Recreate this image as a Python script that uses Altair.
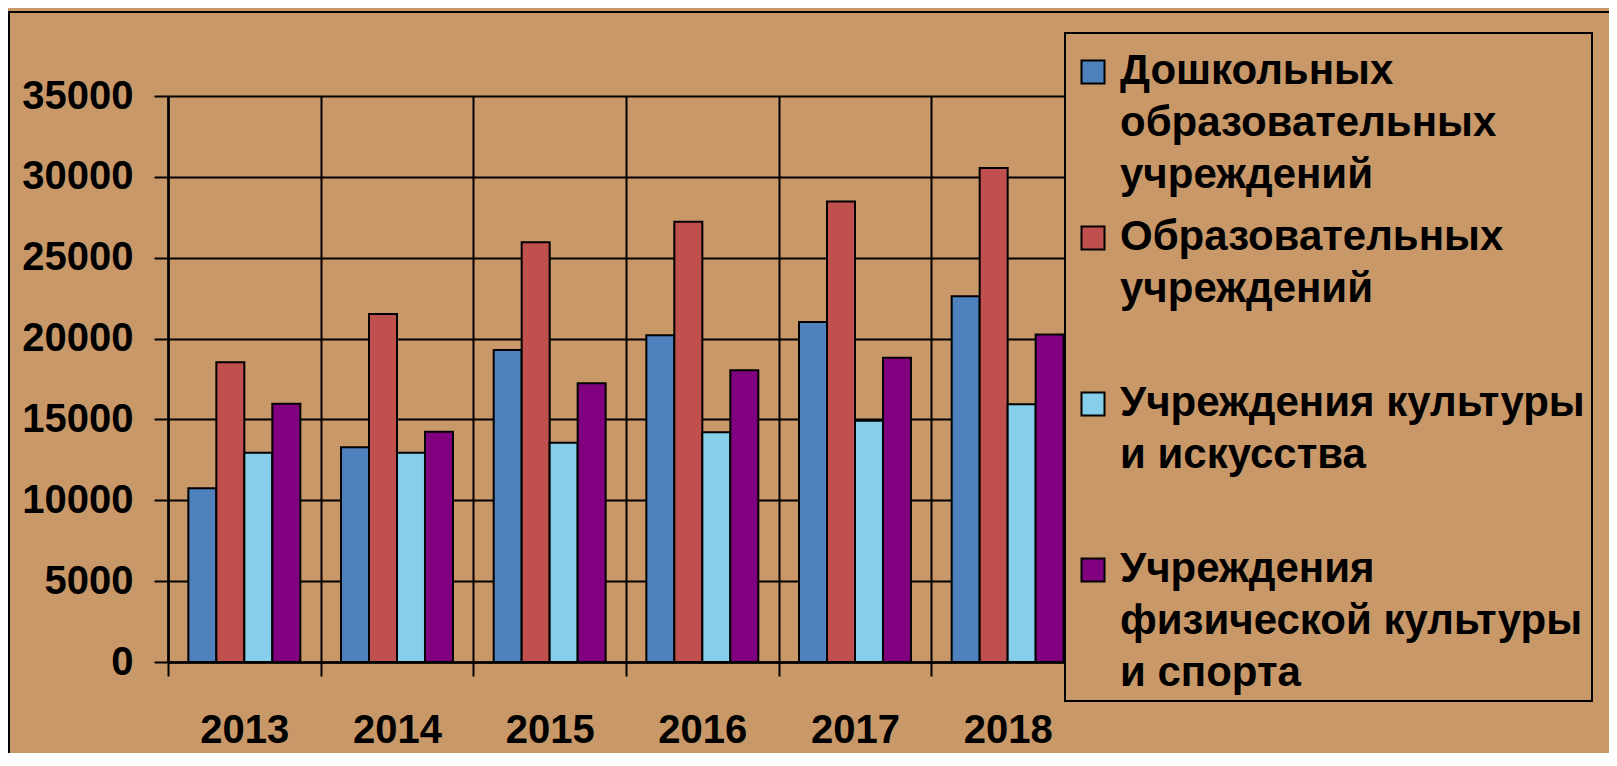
import json
import altair as alt
import pandas as pd

years = ["2013", "2014", "2015", "2016", "2017", "2018"]
series = [
    "Дошкольных образовательных учреждений",
    "Образовательных учреждений",
    "Учреждения культуры и искусства",
    "Учреждения физической культуры и спорта",
]
legend_lines = [
    ["Дошкольных", "образовательных", "учреждений"],
    ["Образовательных", "учреждений", " "],
    ["Учреждения культуры", "и искусства", " "],
    ["Учреждения", "физической культуры", "и спорта"],
]
preschool = [10740, 13280, 19290, 20200, 21030, 22610]
schools = [18530, 21520, 25950, 27230, 28480, 30540]
culture = [12940, 12940, 13560, 14210, 14920, 15940]
sport = [15970, 14240, 17240, 18040, 18820, 20250]
colors = ["#4F81BD", "#C0504D", "#87CEEB", "#800080"]
y_ticks = [0, 5000, 10000, 15000, 20000, 25000, 30000, 35000]

rows = []
for name, vals in zip(series, [preschool, schools, culture, sport]):
    for yr, v in zip(years, vals):
        rows.append({"year": yr, "series": name, "value": v})
df = pd.DataFrame(rows)

CORK = "#C99868"
FONT = "Liberation Sans"

label_expr = f"{json.dumps(legend_lines, ensure_ascii=False)}[indexof({json.dumps(series, ensure_ascii=False)}, datum.label)]"

frame = alt.Chart(pd.DataFrame({"f": [0]})).mark_rect(
    fillOpacity=0, stroke="black", strokeWidth=2
).encode(
    x=alt.value(-159), x2=alt.value(3000), y=alt.value(-84), y2=alt.value(3000)
)

bars = alt.Chart(df).mark_bar(stroke="black", strokeWidth=2).encode(
    x=alt.X(
        "year:N", sort=years,
        scale=alt.Scale(paddingInner=0, paddingOuter=0),
        axis=alt.Axis(title=None, grid=True, tickBand="extent", labelPadding=34, labelAngle=0),
    ),
    xOffset=alt.XOffset(
        "series:N", sort=series,
        scale=alt.Scale(paddingInner=0, paddingOuter=0.727),
    ),
    y=alt.Y(
        "value:Q",
        scale=alt.Scale(domain=[0, 35000], nice=False),
        axis=alt.Axis(title=None, values=y_ticks, labelPadding=21, format="d"),
    ),
    color=alt.Color(
        "series:N", sort=series,
        scale=alt.Scale(domain=series, range=colors),
        legend=alt.Legend(
            title=" ", orient="none", legendX=897, legendY=-63,
            direction="vertical", labelExpr=label_expr,
        ),
    ),
)

chart = alt.layer(frame, bars).properties(
    width=916, height=566, background=CORK,
    padding={"left": 160, "top": 88, "right": 525, "bottom": 91},
    autosize=alt.AutoSizeParams(type="none"),
).configure(
    style={"guide-label": {"lineHeight": 52}}
).configure_view(
    strokeWidth=0
).configure_axis(
    labelFont=FONT, labelFontSize=40, labelFontWeight="bold", labelColor="black",
    domainColor="black", domainWidth=2.5, tickColor="black", tickWidth=2, tickSize=14,
    gridColor="black", gridWidth=2, gridOpacity=1,
).configure_legend(
    labelFont=FONT, labelFontSize=42, labelFontWeight="bold", labelColor="black",
    labelLimit=800, labelBaseline="alphabetic", labelOffset=6,
    symbolType="M-1,-2.043H1V-0.043H-1Z", symbolSize=529,
    symbolStrokeColor="black", symbolStrokeWidth=2,
    fillColor=CORK, strokeColor="black", strokeWidth=2,
    padding=7, rowPadding=20, zindex=1,
    titleFontSize=10, titlePadding=13, titleColor="black",
)

chart.save("out.html", embed_options={"renderer": "svg", "actions": False})
